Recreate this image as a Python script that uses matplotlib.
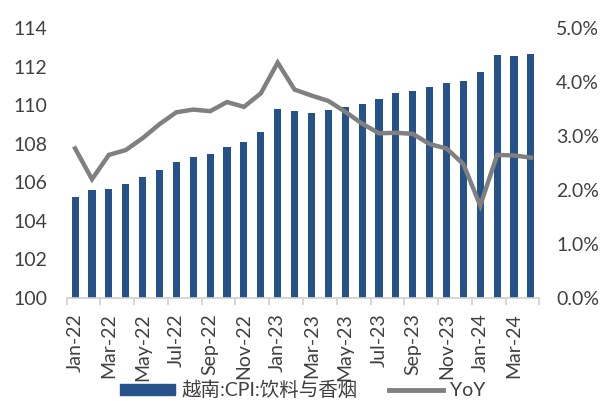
import matplotlib
matplotlib.use("Agg")
import matplotlib.pyplot as plt
import numpy as np
from matplotlib.ticker import FuncFormatter, MultipleLocator
from matplotlib.lines import Line2D
from matplotlib.patches import Patch

plt.rcParams['font.family'] = ['Lato', 'Noto Sans CJK SC', 'DejaVu Sans']

months = ['Jan-22','Feb-22','Mar-22','Apr-22','May-22','Jun-22','Jul-22','Aug-22','Sep-22','Oct-22','Nov-22','Dec-22',
          'Jan-23','Feb-23','Mar-23','Apr-23','May-23','Jun-23','Jul-23','Aug-23','Sep-23','Oct-23','Nov-23','Dec-23',
          'Jan-24','Feb-24','Mar-24','Apr-24']
cpi = [105.22, 105.60, 105.67, 105.91, 106.26, 106.62, 107.03, 107.33, 107.47, 107.83, 108.10, 108.61,
       109.82, 109.69, 109.62, 109.75, 109.90, 110.07, 110.32, 110.64, 110.75, 110.92, 111.15, 111.28,
       111.72, 112.61, 112.53, 112.65]
yoy = [2.77, 2.20, 2.65, 2.74, 2.96, 3.22, 3.44, 3.49, 3.46, 3.63, 3.54, 3.79,
       4.36, 3.86, 3.75, 3.65, 3.45, 3.23, 3.05, 3.06, 3.04, 2.85, 2.77, 2.48,
       1.71, 2.65, 2.64, 2.60]

bar_label = '越南:CPI:饮料与香烟'
line_label = 'YoY'

txt = '#404040'
fig = plt.figure(figsize=(6.06, 4.01), dpi=100)
ax = fig.add_axes([0.11, 0.257, 0.78, 0.673])
x = np.arange(len(months))
ax.bar(x, cpi, width=0.42, color='#245289', zorder=2)
ax.set_ylim(100, 114)
ax.set_xlim(-0.5, len(months) - 0.5)
ax.yaxis.set_major_locator(MultipleLocator(2))
ax.tick_params(axis='y', length=0, labelsize=14, colors=txt, pad=14)

ax2 = ax.twinx()
ax2.plot(x, yoy, color='#808080', lw=3.2, solid_joinstyle='miter', zorder=3)
ax2.set_ylim(0, 5)
ax2.yaxis.set_major_locator(MultipleLocator(1))
ax2.yaxis.set_major_formatter(FuncFormatter(lambda v, p: f'{v:.1f}%'))
ax2.tick_params(axis='y', length=0, labelsize=14, colors=txt, pad=12)

for a in (ax, ax2):
    for s in ['top', 'left', 'right']:
        a.spines[s].set_visible(False)
ax2.spines['bottom'].set_visible(False)
ax.spines['bottom'].set_color('#d0d0d0')
ax.spines['bottom'].set_linewidth(1.2)

ax.set_xticks(x[::2])
ax.set_xticklabels(months[::2], rotation=90, fontsize=14, color=txt)
ax.tick_params(axis='x', length=0, pad=11)
ax.set_xticks(np.arange(-0.5, len(months), 2), minor=True)
ax.tick_params(axis='x', which='minor', length=5, color='#d0d0d0', width=1.2)

handles = [Patch(color='#245289', label=bar_label),
           Line2D([0], [0], color='#808080', lw=3.5, label=line_label)]
leg = fig.legend(handles=handles, loc='center', bbox_to_anchor=(0.5, 0.027), ncol=2, frameon=False,
                 handlelength=2.8, handleheight=0.5, handletextpad=0.35, columnspacing=1.6,
                 prop={'family': ['Lato', 'Noto Sans CJK SC', 'DejaVu Sans'], 'size': 14})
for t in leg.get_texts():
    t.set_color(txt)

fig.savefig('out.png', dpi=100)
